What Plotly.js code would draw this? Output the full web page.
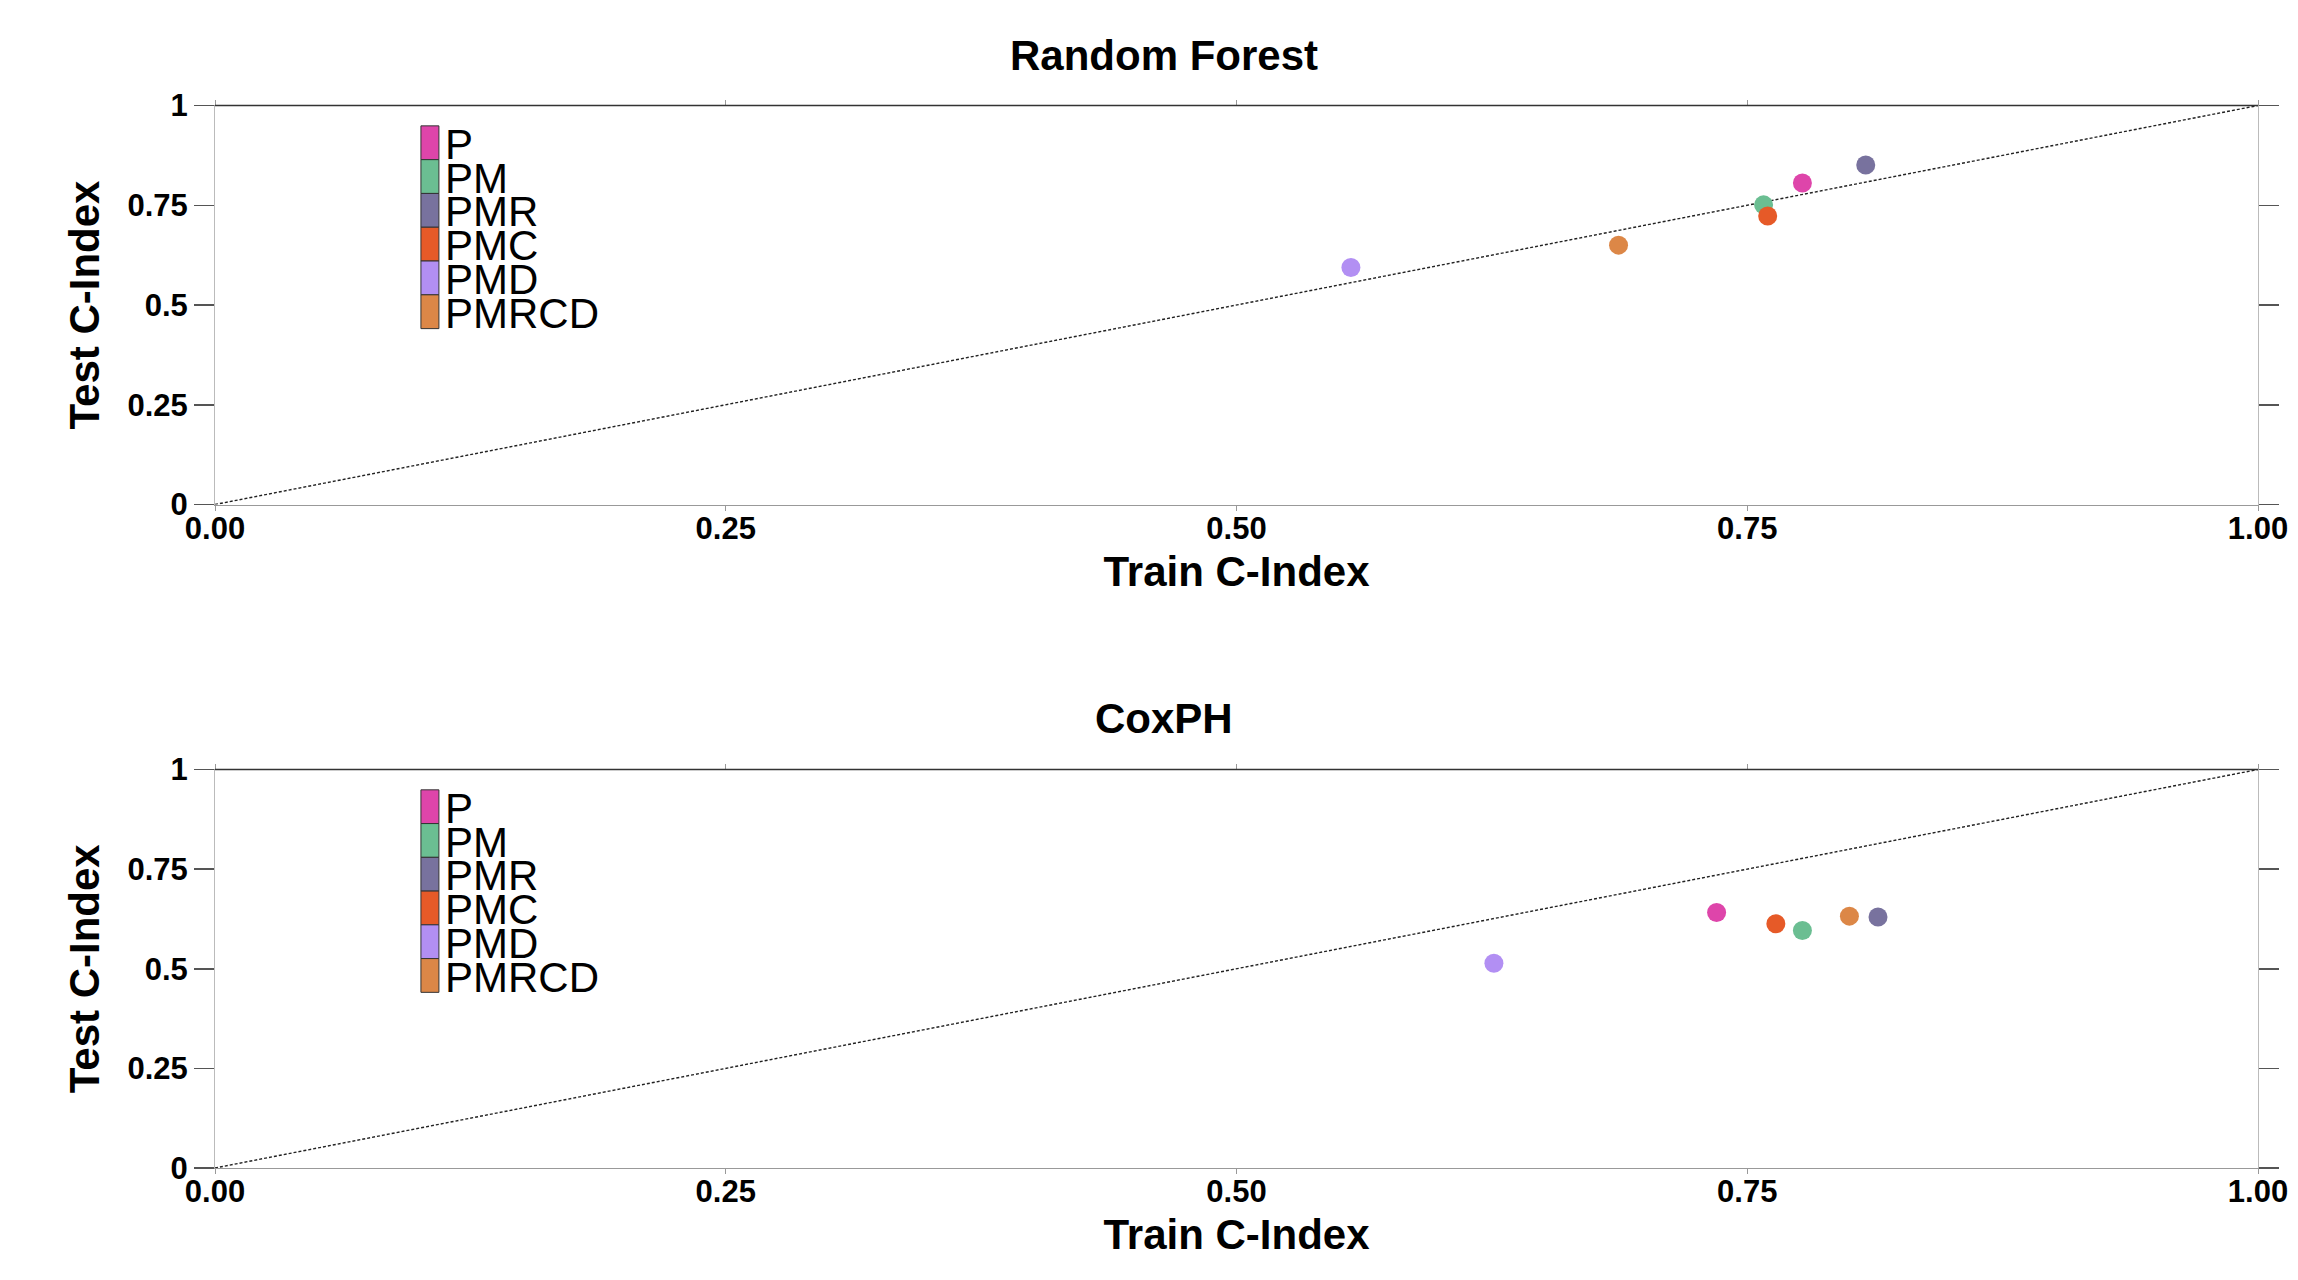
<!DOCTYPE html>
<html><head><meta charset="utf-8">
<script src="https://cdn.plot.ly/plotly-3.0.1.min.js"></script>
<style>html,body{margin:0;padding:0;background:#fff}#chart{width:2298px;height:1280px}</style>
</head><body><div id="chart"></div>
<script>
// ---- data ----
const categories = ['P', 'PM', 'PMR', 'PMC', 'PMD', 'PMRCD'];
const colors = ['#DE45AA', '#6BBE92', '#78729E', '#E65A28', '#B28FF3', '#DC8747'];
const rfTrain = [0.777, 0.758, 0.808, 0.760, 0.556, 0.687];
const rfTest = [0.806, 0.751, 0.851, 0.723, 0.594, 0.650];
const coxTrain = [0.735, 0.777, 0.814, 0.764, 0.626, 0.800];
const coxTest = [0.641, 0.596, 0.630, 0.613, 0.514, 0.632];
const identityLine = [0, 1];
const xTickVals = [0, 0.25, 0.5, 0.75, 1];
const xTickText = ['0.00', '0.25', '0.50', '0.75', '1.00'];
const yTickVals = [0, 0.25, 0.5, 0.75, 1];
const yTickText = ['0', '0.25', '0.5', '0.75', '1'];
const panelTitles = ['Random Forest', 'CoxPH'];
const xTitle = 'Train C-Index';
const yTitle = 'Test C-Index';

// ---- build ----
const FONT = 'Liberation Sans, Arial, Helvetica, sans-serif';
const W = 2298, H = 1280;
const panels = [
  {train: rfTrain, test: rfTest, xa: 'x', ya: 'y'},
  {train: coxTrain, test: coxTest, xa: 'x2', ya: 'y2'}
];
const traces = [];
const shapes = [];
const annotations = [];

panels.forEach((p, pi) => {
  traces.push({
    type: 'scatter', mode: 'lines', x: identityLine, y: identityLine,
    xaxis: p.xa, yaxis: p.ya, showlegend: false, hoverinfo: 'skip',
    line: {color: '#222', width: 1.4, dash: '3px,2px'}
  });
  categories.forEach((c, i) => {
    traces.push({
      type: 'scatter', mode: 'markers', name: c,
      x: [p.train[i]], y: [p.test[i]],
      xaxis: p.xa, yaxis: p.ya, showlegend: false,
      marker: {color: colors[i], size: 19, line: {width: 0}}
    });
  });
  // manual legend (blocks + labels) in axis-domain coordinates
  const legTop = 0.949, itemH = 0.0847;
  categories.forEach((c, i) => {
    shapes.push({
      type: 'rect', xref: p.xa + ' domain', yref: p.ya + ' domain',
      x0: 0.1008, x1: 0.1096,
      y0: legTop - (i + 1) * itemH, y1: legTop - i * itemH,
      fillcolor: colors[i], line: {color: '#333', width: 1}
    });
    annotations.push({
      xref: p.xa + ' domain', yref: p.ya + ' domain',
      x: 0.1115, y: legTop - (i + 0.5) * itemH - 0.004,
      xanchor: 'left', yanchor: 'middle', showarrow: false,
      text: c, font: {family: FONT, size: 42, color: '#000'}
    });
  });
  // darker top frame line
  shapes.push({
    type: 'line', xref: p.xa + ' domain', yref: p.ya + ' domain',
    x0: 0, x1: 1, y0: 1, y1: 1, line: {color: '#333', width: 1.5}
  });
  annotations.push({
    xref: 'paper', yref: 'paper', x: 1164 / W, y: 1 - (pi === 0 ? 56 : 718) / H,
    xanchor: 'center', yanchor: 'middle', showarrow: false,
    text: '<b>' + panelTitles[pi] + '</b>',
    font: {family: FONT, size: 42, color: '#000'}
  });
});

function xAxis(dom, anchor) {
  return {
    domain: dom, anchor: anchor, range: [0, 1], autorange: false,
    tickmode: 'array', tickvals: xTickVals, ticktext: xTickText,
    ticks: 'outside', ticklen: 5, tickwidth: 1, tickcolor: '#999',
    ticklabelstandoff: -9,
    showline: true, linecolor: '#999', linewidth: 1, mirror: 'ticks',
    showgrid: false, zeroline: false, automargin: false,
    tickfont: {family: FONT, size: 31, color: '#000', weight: 'bold'},
    title: {text: xTitle, standoff: 11, font: {family: FONT, size: 42, color: '#000', weight: 'bold'}}
  };
}
function yAxis(dom, anchor) {
  return {
    domain: dom, anchor: anchor, range: [0, 1], autorange: false,
    tickmode: 'array', tickvals: yTickVals, ticktext: yTickText,
    ticks: 'outside', ticklen: 20, tickwidth: 1.5, tickcolor: '#555',
    showline: true, linecolor: '#bbb', linewidth: 1, mirror: 'ticks',
    showgrid: false, zeroline: false, automargin: false,
    tickfont: {family: FONT, size: 31, color: '#000', weight: 'bold'},
    title: {text: yTitle, standoff: 14, font: {family: FONT, size: 42, color: '#000', weight: 'bold'}}
  };
}

const xd = [215 / W, 2258 / W];
const layout = {
  width: W, height: H,
  margin: {l: 0, r: 0, t: 0, b: 0, autoexpand: false},
  paper_bgcolor: '#fff', plot_bgcolor: '#fff',
  showlegend: false,
  xaxis: xAxis(xd, 'y'),
  yaxis: yAxis([1 - 504.5 / H, 1 - 105.5 / H], 'x'),
  xaxis2: xAxis(xd, 'y2'),
  yaxis2: yAxis([1 - 1168 / H, 1 - 769.5 / H], 'x2'),
  shapes: shapes,
  annotations: annotations
};

Plotly.newPlot('chart', traces, layout, {displayModeBar: false, staticPlot: true});
</script>
</body></html>
